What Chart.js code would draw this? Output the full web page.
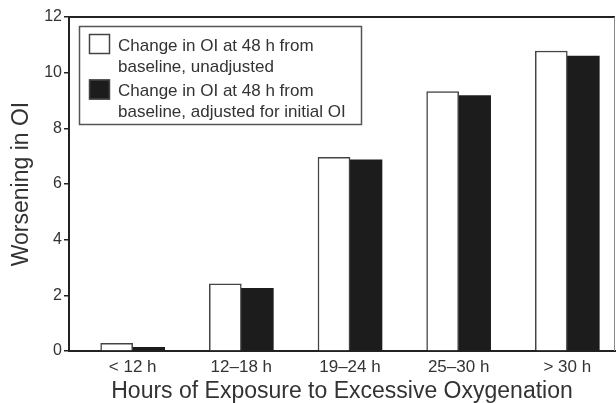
<!DOCTYPE html>
<html>
<head>
<meta charset="utf-8">
<script src="https://cdn.jsdelivr.net/npm/chart.js@4/dist/chart.umd.min.js"></script>
<style>
  html, body { margin: 0; padding: 0; background: #fff; }
  #wrap { width: 616px; height: 403px; }
</style>
</head>
<body>
<div id="wrap"><canvas id="c" width="616" height="403"></canvas></div>
<script>
const categories = ['< 12 h', '12\u201318 h', '19\u201324 h', '25\u201330 h', '> 30 h'];
const unadjusted = [0.28, 2.41, 6.96, 9.32, 10.78];
const adjusted = [0.13, 2.25, 6.87, 9.18, 10.6];
const legendLines = [
  ['Change in OI at 48 h from', 'baseline, unadjusted'],
  ['Change in OI at 48 h from', 'baseline, adjusted for initial OI']
];
const yTicks = [0, 2, 4, 6, 8, 10, 12];

const FONT = "'Liberation Sans', Arial, Helvetica, sans-serif";
const TXT = '#333';

const toPoints = arr => arr.map((v, i) => ({ x: i + 1, y: v }));

const framePlugin = {
  id: 'frame',
  afterDatasetsDraw(chart) {
    const { ctx, chartArea: a } = chart;
    ctx.save();
    ctx.strokeStyle = '#222';
    ctx.lineWidth = 2;
    ctx.beginPath();
    ctx.moveTo(a.left, a.top);
    ctx.lineTo(a.right, a.top);
    ctx.stroke();
    ctx.strokeStyle = '#888';
    ctx.lineWidth = 1;
    ctx.beginPath();
    ctx.moveTo(a.right - 0.5, a.top);
    ctx.lineTo(a.right - 0.5, a.bottom);
    ctx.stroke();
    ctx.restore();
  }
};

const boxLegendPlugin = {
  id: 'boxLegend',
  afterDraw(chart) {
    const { ctx } = chart;
    ctx.save();
    ctx.strokeStyle = '#555';
    ctx.lineWidth = 1.5;
    ctx.strokeRect(79.5, 26.5, 282, 98);
    const swY = [34, 79.5];
    const baseY = [[50.5, 71.5], [95.5, 116.5]];
    chart.data.datasets.forEach((ds, i) => {
      ctx.fillStyle = ds.backgroundColor;
      ctx.fillRect(89, swY[i], 21, 20);
      ctx.strokeStyle = '#444';
      ctx.lineWidth = 1.5;
      ctx.strokeRect(89.5, swY[i] + 0.5, 20, 19);
      ctx.fillStyle = TXT;
      ctx.font = '17px ' + FONT;
      ctx.textBaseline = 'alphabetic';
      ctx.textAlign = 'left';
      legendLines[i].forEach((line, j) => ctx.fillText(line, 118, baseY[i][j]));
    });
    ctx.restore();
  }
};

new Chart(document.getElementById('c'), {
  type: 'bar',
  data: {
    datasets: [
      {
        label: legendLines[0].join(' '),
        data: toPoints(unadjusted),
        backgroundColor: '#ffffff',
        borderColor: '#444',
        borderWidth: 1.5,
        barThickness: 32
      },
      {
        label: legendLines[1].join(' '),
        data: toPoints(adjusted),
        backgroundColor: '#1c1c1c',
        borderColor: '#1c1c1c',
        borderWidth: 0,
        barThickness: 32
      }
    ]
  },
  options: {
    responsive: false,
    animation: false,
    layout: { padding: { top: 17, right: 1, left: 0, bottom: 0 } },
    plugins: { legend: { display: false }, tooltip: { enabled: false } },
    scales: {
      x: {
        type: 'linear',
        min: 0.414,
        max: 5.439,
        offset: false,
        afterBuildTicks: s => { s.ticks = categories.map((c, i) => ({ value: i + 1 })); },
        afterFit: s => { s.height = 52; },
        ticks: {
          callback: v => categories[Math.round(v) - 1] ?? '',
          font: { family: FONT, size: 17 },
          color: TXT,
          padding: 6,
          maxRotation: 0,
          autoSkip: false
        },
        grid: { display: false, drawTicks: false },
        border: { display: true, color: '#222', width: 2 },
        title: {
          display: true,
          text: 'Hours of Exposure to Excessive Oxygenation',
          font: { family: FONT, size: 23, lineHeight: 1 },
          color: TXT,
          padding: { top: 0, bottom: 0 }
        }
      },
      y: {
        min: 0,
        max: 12,
        afterBuildTicks: s => { s.ticks = yTicks.map(v => ({ value: v })); },
        afterFit: s => { s.width = 69; },
        ticks: {
          font: { family: FONT, size: 16 },
          color: TXT,
          padding: 2
        },
        grid: { drawOnChartArea: false, drawTicks: true, tickLength: 5, color: '#222', lineWidth: 1.5 },
        border: { display: true, color: '#222', width: 2 },
        title: {
          display: true,
          text: 'Worsening in OI',
          font: { family: FONT, size: 23 },
          color: TXT,
          padding: { top: 8, bottom: 0 }
        }
      }
    }
  },
  plugins: [framePlugin, boxLegendPlugin]
});
</script>
</body>
</html>
